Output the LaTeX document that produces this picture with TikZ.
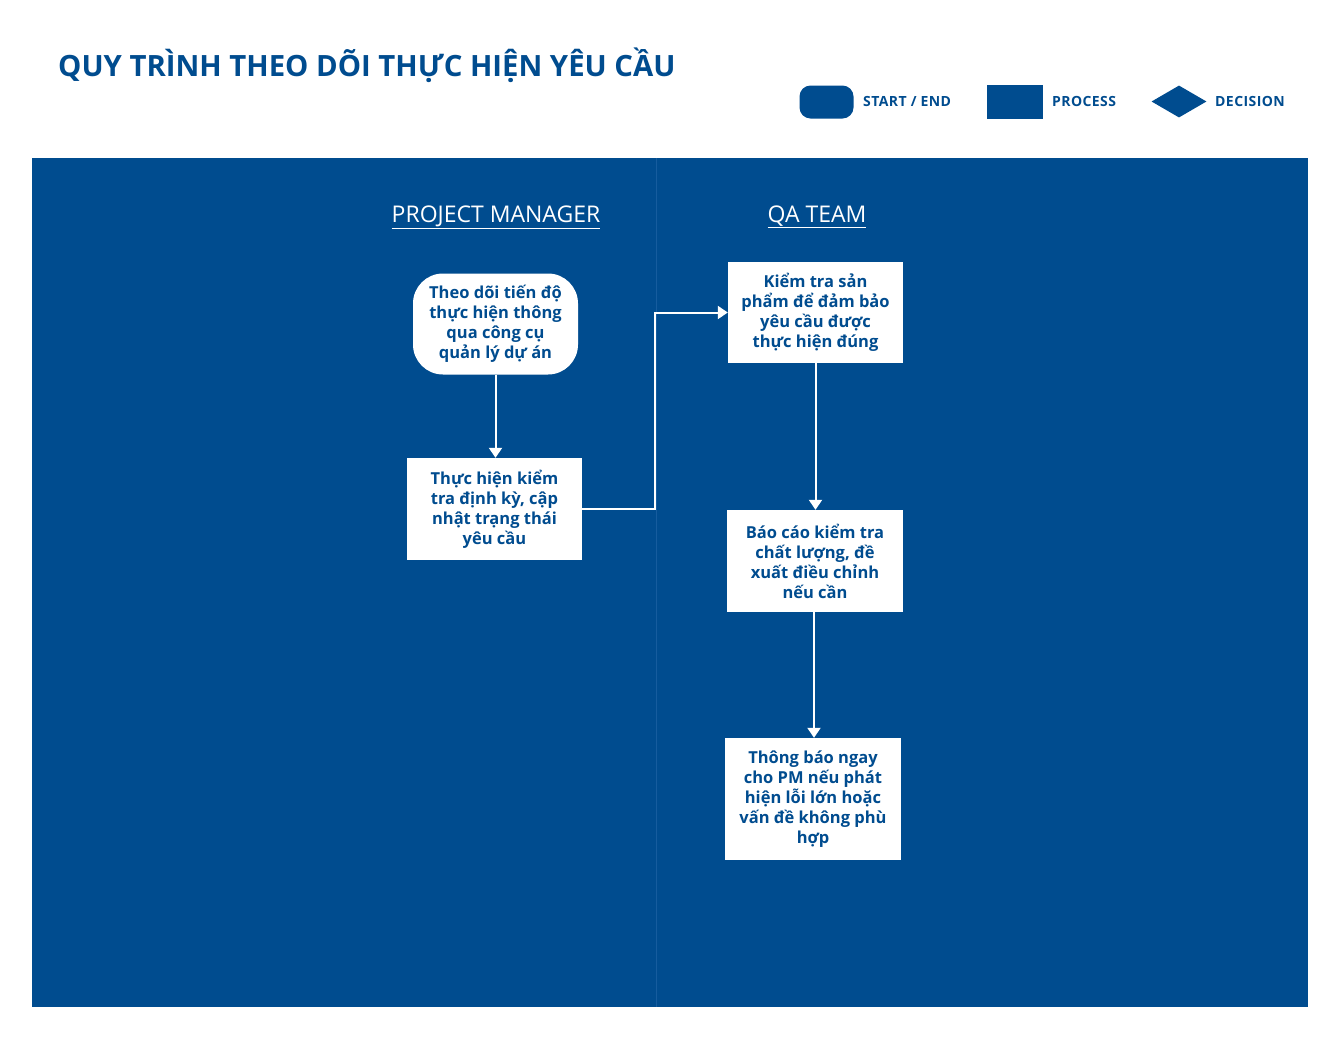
\documentclass[tikz,border=0pt]{standalone}
\usepackage{fontspec}
\setmainfont{Open Sans}
\usetikzlibrary{arrows.meta,shapes.geometric}
\definecolor{brand}{RGB}{0,76,143}
\definecolor{lanesep}{RGB}{22,92,158}

\begin{document}
\begin{tikzpicture}[x=1pt,y=-1pt,
  boxtext/.style={text=brand, align=center, inner sep=0pt,
    font=\bfseries\fontsize{16.5}{20}\selectfont},
  terminal/.style={boxtext, fill=white, rounded corners=30pt,
    minimum width=165pt, minimum height=101pt},
  process/.style={boxtext, fill=white, rectangle,
    minimum width=175pt, minimum height=102pt},
  lanehead/.style={text=white, font=\fontsize{23}{27}\selectfont},
  legendtext/.style={text=brand, anchor=west, inner sep=0pt,
    font=\bfseries\fontsize{14}{16}\selectfont\addfontfeatures{LetterSpace=3}},
  flow/.style={draw=white, line width=2pt,
    -{Triangle[width=13pt,length=10pt]}}
]
\useasboundingbox (0,0) rectangle (1341,1037);
\fill[white] (0,0) rectangle (1341,1037);

% title
\node[anchor=base west, inner sep=0pt, text=brand,
  font=\bfseries\fontsize{29.3}{34}\selectfont] (title) at (58,76)
  {QUY TRÌNH THEO DÕI THỰC HIỆN YÊU CẦU};

% legend
\node[fill=brand, rounded corners=11pt, minimum width=54pt,
  minimum height=33pt, inner sep=0pt] (lgterm) at (826.5,102) {};
\node[legendtext] (lgtermtxt) at (863,101) {START / END};
\node[fill=brand, minimum width=56pt, minimum height=34pt,
  inner sep=0pt] (lgproc) at (1014.5,101.5) {};
\node[legendtext] (lgproctxt) at (1052,101) {PROCESS};
\node[fill=brand, diamond, aspect=1.74, minimum width=55pt,
  minimum height=32pt, inner sep=0pt] (lgdec) at (1179,101.5) {};
\node[legendtext] (lgdectxt) at (1215,101) {DECISION};

% swimlane area
\fill[brand] (32,158) rectangle (1308,1007);
\draw[lanesep, line width=1pt] (656,158) -- (656,1007);

\node[lanehead] (pm) at (496,217) {\underline{PROJECT MANAGER}};
\node[lanehead] (qa) at (817,217) {\underline{QA TEAM}};

% steps
\node[terminal] (track) at (495.5,324)
  {Theo dõi tiến độ\\thực hiện thông\\qua công cụ\\quản lý dự án};
\node[process] (check) at (494.5,509)
  {Thực hiện kiểm\\tra định kỳ, cập\\nhật trạng thái\\yêu cầu};
\node[process, minimum height=101pt] (verify) at (815.5,312.5)
  {Kiểm tra sản\\phẩm để đảm bảo\\yêu cầu được\\thực hiện đúng};
\node[process, minimum width=176pt] (report) at (815,561)
  {Báo cáo kiểm tra\\chất lượng, đề\\xuất điều chỉnh\\nếu cần};
\node[process, minimum width=176pt, minimum height=122pt] (notify) at (813,799)
  {Thông báo ngay\\cho PM nếu phát\\hiện lỗi lớn hoặc\\vấn đề không phù\\hợp};

% connectors
\draw[flow] (track.south) -- (track.south |- check.north);
\draw[flow] (check.east) -- ++(73,0) |- (verify.west);
\draw[flow] (verify.south) -- (verify.south |- report.north);
\draw[flow] ([xshift=-1pt]report.south) -- ([xshift=-1pt]report.south |- notify.north);
\end{tikzpicture}
\end{document}
